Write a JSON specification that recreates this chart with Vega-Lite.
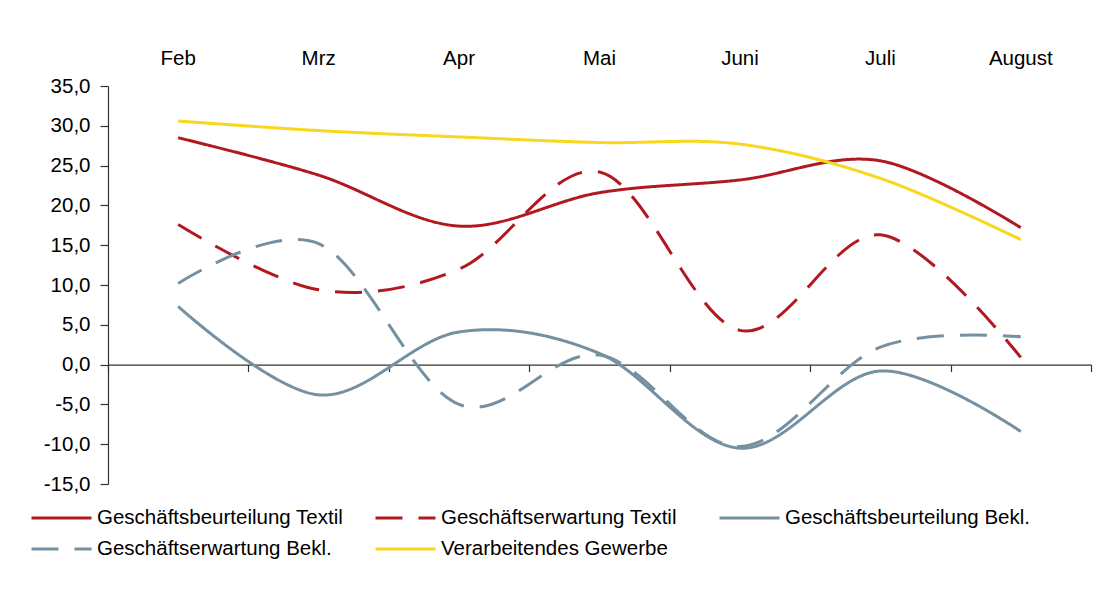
{
  "$schema": "https://vega.github.io/schema/vega-lite/v6.json",
  "width": 983,
  "height": 398,
  "autosize": {"type": "none"},
  "padding": {"left": 108, "top": 86, "right": 12, "bottom": 106},
  "background": "white",
  "config": {
    "view": {"stroke": null},
    "font": "Liberation Sans",
    "axis": {"grid": false, "labelFont": "Liberation Sans", "labelFontSize": 20.5, "labelColor": "#000000", "domainColor": "#333333", "tickColor": "#333333", "domainWidth": 1.2, "tickWidth": 1.2}
  },
  "data": {
    "values": [
      {"month": "Feb", "series": "Geschäftsbeurteilung Textil", "value": 28.5},
      {"month": "Mrz", "series": "Geschäftsbeurteilung Textil", "value": 23.8},
      {"month": "Apr", "series": "Geschäftsbeurteilung Textil", "value": 17.4},
      {"month": "Mai", "series": "Geschäftsbeurteilung Textil", "value": 21.6},
      {"month": "Juni", "series": "Geschäftsbeurteilung Textil", "value": 23.2},
      {"month": "Juli", "series": "Geschäftsbeurteilung Textil", "value": 25.6},
      {"month": "August", "series": "Geschäftsbeurteilung Textil", "value": 17.2},
      {"month": "Feb", "series": "Geschäftserwartung Textil", "value": 17.6},
      {"month": "Mrz", "series": "Geschäftserwartung Textil", "value": 9.4},
      {"month": "Apr", "series": "Geschäftserwartung Textil", "value": 12.0},
      {"month": "Mai", "series": "Geschäftserwartung Textil", "value": 24.2},
      {"month": "Juni", "series": "Geschäftserwartung Textil", "value": 4.3},
      {"month": "Juli", "series": "Geschäftserwartung Textil", "value": 16.3},
      {"month": "August", "series": "Geschäftserwartung Textil", "value": 0.9},
      {"month": "Feb", "series": "Geschäftsbeurteilung Bekl.", "value": 7.3},
      {"month": "Mrz", "series": "Geschäftsbeurteilung Bekl.", "value": -3.8},
      {"month": "Apr", "series": "Geschäftsbeurteilung Bekl.", "value": 4.1},
      {"month": "Mai", "series": "Geschäftsbeurteilung Bekl.", "value": 1.4},
      {"month": "Juni", "series": "Geschäftsbeurteilung Bekl.", "value": -10.5},
      {"month": "Juli", "series": "Geschäftsbeurteilung Bekl.", "value": -0.8},
      {"month": "August", "series": "Geschäftsbeurteilung Bekl.", "value": -8.4},
      {"month": "Feb", "series": "Geschäftserwartung Bekl.", "value": 10.2},
      {"month": "Mrz", "series": "Geschäftserwartung Bekl.", "value": 15.2},
      {"month": "Apr", "series": "Geschäftserwartung Bekl.", "value": -5.0},
      {"month": "Mai", "series": "Geschäftserwartung Bekl.", "value": 1.2},
      {"month": "Juni", "series": "Geschäftserwartung Bekl.", "value": -10.3},
      {"month": "Juli", "series": "Geschäftserwartung Bekl.", "value": 2.2},
      {"month": "August", "series": "Geschäftserwartung Bekl.", "value": 3.5},
      {"month": "Feb", "series": "Verarbeitendes Gewerbe", "value": 30.6},
      {"month": "Mrz", "series": "Verarbeitendes Gewerbe", "value": 29.4},
      {"month": "Apr", "series": "Verarbeitendes Gewerbe", "value": 28.6},
      {"month": "Mai", "series": "Verarbeitendes Gewerbe", "value": 27.9},
      {"month": "Juni", "series": "Verarbeitendes Gewerbe", "value": 27.7},
      {"month": "Juli", "series": "Verarbeitendes Gewerbe", "value": 23.4},
      {"month": "August", "series": "Verarbeitendes Gewerbe", "value": 15.7}
    ]
  },
  "layer": [
    {
      "mark": {"type": "line", "interpolate": "cardinal", "strokeWidth": 3, "strokeCap": "butt"},
      "encoding": {
        "x": {
          "field": "month", "type": "ordinal",
          "sort": ["Feb", "Mrz", "Apr", "Mai", "Juni", "Juli", "August"],
          "scale": {"type": "band", "paddingInner": 0, "paddingOuter": 0},
          "axis": {"orient": "top", "title": null, "domain": false, "ticks": false, "tickSize": 0, "labelPadding": 22, "labelBaseline": "alphabetic", "labelAngle": 0}
        },
        "y": {
          "field": "value", "type": "quantitative",
          "scale": {"domain": [-15, 35], "nice": false, "zero": false},
          "axis": {"title": null, "values": [-15, -10, -5, 0, 5, 10, 15, 20, 25, 30, 35], "tickSize": 8, "labelPadding": 10,
                   "labelExpr": "replace(replace(format(datum.value, '.1f'), '.', ','), '−', '-')"}
        },
        "color": {
          "field": "series", "type": "nominal",
          "scale": {"domain": ["Geschäftsbeurteilung Textil", "Geschäftserwartung Textil", "Geschäftsbeurteilung Bekl.", "Geschäftserwartung Bekl.", "Verarbeitendes Gewerbe"],
                    "range": ["#B2191F", "#B2191F", "#7590A0", "#7590A0", "#F9D71C"]},
          "legend": {"orient": "none", "direction": "horizontal", "legendX": -78, "legendY": 421, "columns": 3, "title": null, "symbolType": "stroke", "symbolSize": 3600, "symbolStrokeWidth": 3, "labelFontSize": 20.5, "labelFont": "Liberation Sans", "labelColor": "#000000", "labelLimit": 0, "labelOffset": 4, "columnPadding": 30, "rowPadding": 9, "clipHeight": 22, "gridAlign": "all", "padding": 0}
        },
        "strokeDash": {
          "field": "series", "type": "nominal",
          "scale": {"domain": ["Geschäftsbeurteilung Textil", "Geschäftserwartung Textil", "Geschäftsbeurteilung Bekl.", "Geschäftserwartung Bekl.", "Verarbeitendes Gewerbe"],
                    "range": [[1, 0], [27, 16], [1, 0], [27, 16], [1, 0]]},
          "legend": {"orient": "none", "direction": "horizontal", "legendX": -78, "legendY": 421, "columns": 3, "title": null, "symbolType": "stroke", "symbolSize": 3600, "symbolStrokeWidth": 3, "labelFontSize": 20.5, "labelFont": "Liberation Sans", "labelColor": "#000000", "labelLimit": 0, "labelOffset": 4, "columnPadding": 30, "rowPadding": 9, "clipHeight": 22, "gridAlign": "all", "padding": 0}
        }
      }
    },
    {
      "mark": {"type": "point", "opacity": 0},
      "encoding": {
        "x": {
          "field": "month", "type": "ordinal",
          "sort": ["Feb", "Mrz", "Apr", "Mai", "Juni", "Juli", "August"],
          "axis": {"orient": "bottom", "offset": -119.4, "title": null, "labels": false, "tickSize": 7, "tickBand": "extent", "domain": true}
        },
        "y": {"field": "value", "type": "quantitative", "axis": null}
      }
    }
  ],
  "resolve": {"axis": {"x": "independent", "y": "independent"}}
}
